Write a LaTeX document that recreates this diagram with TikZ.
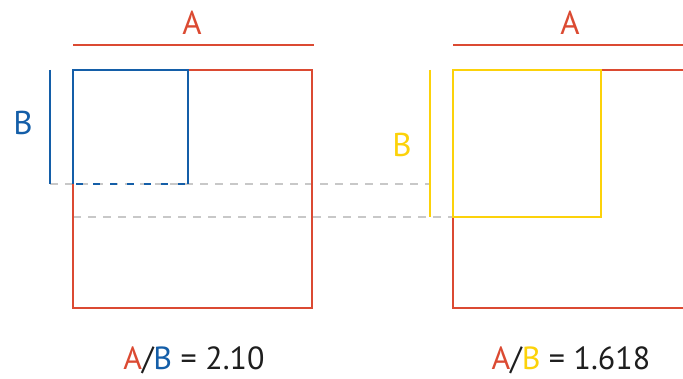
\documentclass[tikz,border=0pt]{standalone}
\usepackage{fontspec}
\setmainfont{PT Sans}
\definecolor{rred}{RGB}{219,74,50}
\definecolor{bblue}{RGB}{20,94,168}
\definecolor{yyellow}{RGB}{252,210,10}
\definecolor{ggray}{RGB}{200,200,200}
\definecolor{ink}{RGB}{30,30,30}
\tikzset{
  edge/.style={line width=2.5pt},
  guide/.style={ggray, line width=2pt, dash pattern=on 8pt off 7pt},
  lbl/.style={font=\fontsize{33}{33}\selectfont, inner sep=0pt, anchor=base},
  ratio/.style={font=\fontsize{32}{32}\selectfont, inner sep=0pt, anchor=base, text=ink}
}
\begin{document}
\begin{tikzpicture}[x=1pt,y=-1pt]
  \useasboundingbox (0,0) rectangle (683,379);

  % corner points of the guide lines
  \coordinate (lb) at (50,184);
  \coordinate (rb) at (430,184);
  \coordinate (ll) at (73,217);
  \coordinate (rl) at (453,217);

  % dashed guides
  \draw[guide] (lb) -- (rb);
  \draw[guide] (ll) -- (rl);

  % left: rectangle with side A and square with side B
  \draw[edge, rred] (73,45) -- (314,45);
  \node[lbl, text=rred] (la) at (192,35) {A};
  \draw[edge, rred] (73,70) rectangle (312,308);
  \draw[edge, bblue] (73,184) -- (73,70) -- (188,70) -- (188,184);
  \draw[edge, bblue, dash pattern=on 7pt off 10pt, dash phase=-3pt] (73,184) -- (188,184);
  \draw[edge, bblue] (50,70) -- (lb);
  \node[lbl, text=bblue] (lbb) at (23,135) {B};

  % right: rectangle with side A and golden square with side B
  \draw[edge, rred] (453,45) -- (690,45);
  \node[lbl, text=rred] (ra) at (570,35) {A};
  \draw[edge, rred] (690,70) -- (453,70) -- (453,308) -- (690,308);
  \draw[edge, yyellow] (453,70) rectangle (601,217);
  \draw[edge, yyellow] (430,70) -- (430,217);
  \node[lbl, text=yyellow] (rbb) at (402,157) {B};

  % ratios
  \node[ratio] (lr) at (194,370) {\textcolor{rred}{A}/\textcolor{bblue}{B} = 2.10};
  \node[ratio] (rr) at (571,370) {\textcolor{rred}{A}/\textcolor{yyellow}{B} = 1.618};
\end{tikzpicture}
\end{document}
